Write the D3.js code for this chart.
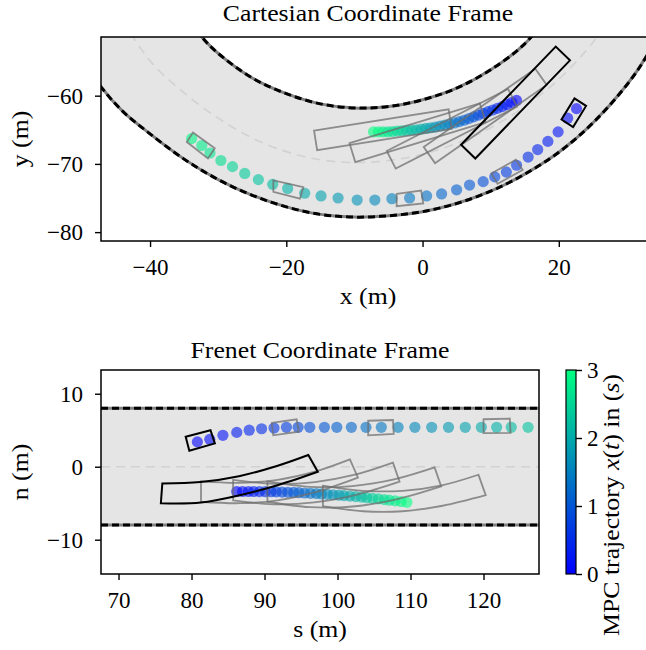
<!DOCTYPE html>
<html>
<head>
<meta charset="utf-8">
<script src="https://cdn.jsdelivr.net/npm/d3@7"></script>
<style>
  body { margin: 0; background: #fff; }
  svg text { font-family: "Liberation Serif", "DejaVu Serif", serif; fill: #000; }
</style>
</head>
<body>
<div id="chart"></div>
<script>
// ---------- data: Cartesian frame ----------
const cartXLim = [-47.2, 32.8];
const cartYLim = [-81.3, -51.4];
const cartXTicks = [-40, -20, 0, 20];
const cartYTicks = [-80, -70, -60];

// road edges and centre line (x, y)
const roadOuterXY = [[-53,-48.8],[-50,-54.5],[-47.2,-58.7],[-44,-62.3],[-40,-65.6],[-35,-69.3],[-30,-72.3],[-25,-74.6],[-20,-76.3],[-15,-77.4],[-10,-77.8],[-5,-77.6],[0,-77.0],[5,-75.8],[10,-74.0],[15,-71.5],[20,-68.3],[25,-64.0],[30,-58.4],[33,-54.0],[36,-47.8]];
const roadInnerXY = [[-37,-45.1],[-32.4,-51.4],[-30,-53.8],[-25,-57.4],[-20,-59.7],[-15,-61.2],[-10,-61.8],[-5,-61.6],[0,-60.6],[5,-58.9],[10,-56.2],[15,-52.4],[19,-47.5]];
const roadCenterXY = [[-44,-49.0],[-40,-54.9],[-35,-59.6],[-30,-63.3],[-25,-66.2],[-20,-68.2],[-15,-69.4],[-10,-69.8],[-5,-69.5],[0,-68.6],[5,-67.0],[10,-64.7],[15,-61.6],[20,-57.6],[25,-52.2],[28,-47.9]];

// other vehicle: predicted positions (x, y, t)
const obstacleXY = [[22.6,-61.9,0.0],[21.3,-63.3,0.1],[19.9,-65.3,0.2],[18.4,-66.7,0.3],[16.9,-67.9,0.4],[15.5,-69.0,0.5],[13.8,-70.2,0.6],[12.3,-71.2,0.7],[10.6,-71.9,0.8],[8.9,-72.6,0.9],[6.9,-73.1,1.0],[5.0,-73.8,1.1],[2.8,-74.4,1.2],[0.6,-74.7,1.3],[-1.9,-75.0,1.4],[-4.5,-75.1,1.5],[-7.0,-75.3,1.6],[-9.6,-75.3,1.7],[-12.4,-75.0,1.8],[-14.9,-74.7,1.9],[-17.3,-74.3,2.0],[-19.8,-73.6,2.1],[-22.0,-73.0,2.2],[-24.1,-72.3,2.3],[-26.1,-71.4,2.4],[-27.9,-70.4,2.5],[-29.6,-69.5,2.6],[-31.2,-68.4,2.7],[-32.4,-67.3,2.8],[-33.9,-66.3,2.9]];

// ego MPC trajectory (x, y, t)
const egoXY = [[13.8,-60.7,0.0],[13.1,-61.0,0.1],[12.4,-61.3,0.2],[11.7,-61.6,0.3],[11.0,-61.85,0.4],[10.3,-62.1,0.5],[9.6,-62.35,0.6],[8.9,-62.6,0.7],[8.2,-62.85,0.8],[7.5,-63.1,0.9],[6.8,-63.35,1.0],[6.1,-63.6,1.1],[5.4,-63.8,1.2],[4.7,-64.0,1.3],[4.0,-64.15,1.4],[3.3,-64.3,1.5],[2.6,-64.45,1.6],[1.9,-64.6,1.7],[1.2,-64.7,1.8],[0.5,-64.8,1.9],[-0.2,-64.9,2.0],[-0.9,-65.0,2.1],[-1.6,-65.05,2.2],[-2.3,-65.1,2.3],[-3.0,-65.15,2.4],[-3.7,-65.2,2.5],[-4.4,-65.25,2.6],[-5.1,-65.3,2.7],[-5.8,-65.3,2.8],[-6.5,-65.3,2.9],[-7.2,-65.3,3.0]];

// other vehicle footprints (corners)
const obstacleNowXY = [[22.3,-60.4],[24.0,-61.5],[22.1,-64.6],[20.4,-63.5]];
const obstacleBoxesXY = [
  [[10.1,-71.4],[13.7,-69.4],[14.7,-70.9],[11.0,-72.9]],
  [[-3.8,-74.4],[-0.2,-73.9],[0.1,-75.8],[-3.8,-76.2]],
  [[-21.9,-72.4],[-17.5,-73.4],[-18.0,-75.1],[-21.9,-74.1]],
  [[-33.7,-65.4],[-30.5,-67.7],[-31.5,-69.2],[-34.6,-66.8]]
];
// ego footprints: front-centre x, y, body angle (deg, front -> rear); first one is the current pose
const egoPosesXY = [[6.7,-68.2,46],[1.0,-68.7,35],[-4.6,-69.4,27],[-10.3,-68.35,17],[-15.7,-66.55,9]];
const egoLength = 20;
const egoWidth = 2.9;

// ---------- data: Frenet frame ----------
const frenetSLim = [67.6, 127.6];
const frenetNLim = [-14.7, 13.25];
const frenetSTicks = [70, 80, 90, 100, 110, 120];
const frenetNTicks = [-10, 0, 10];
const laneEdgesN = [-8, 8];

const obstacleSN = [[80.8,3.4,0.0],[82.5,3.75,0.1],[84.3,4.3,0.2],[86.2,4.7,0.3],[87.9,5.0,0.4],[89.6,5.2,0.5],[91.3,5.3,0.6],[93.0,5.4,0.7],[94.6,5.4,0.8],[96.2,5.4,0.9],[98.2,5.4,1.0],[99.9,5.4,1.1],[101.9,5.4,1.2],[103.9,5.4,1.3],[106.0,5.4,1.4],[108.3,5.4,1.5],[110.6,5.4,1.6],[112.9,5.4,1.7],[115.2,5.4,1.8],[117.5,5.4,1.9],[119.7,5.4,2.0],[121.8,5.4,2.1],[123.8,5.4,2.2],[126.1,5.4,2.3]];

const egoSN = [[86.2,-3.40,0.0],[87.0,-3.40,0.1],[87.8,-3.40,0.2],[88.5,-3.40,0.3],[89.3,-3.41,0.4],[90.1,-3.42,0.5],[90.9,-3.43,0.6],[91.6,-3.45,0.7],[92.4,-3.47,0.8],[93.2,-3.50,0.9],[94.0,-3.53,1.0],[94.7,-3.56,1.1],[95.5,-3.60,1.2],[96.3,-3.64,1.3],[97.1,-3.68,1.4],[97.8,-3.73,1.5],[98.6,-3.78,1.6],[99.4,-3.84,1.7],[100.2,-3.90,1.8],[100.9,-3.96,1.9],[101.7,-4.03,2.0],[102.5,-4.10,2.1],[103.3,-4.17,2.2],[104.0,-4.25,2.3],[104.8,-4.33,2.4],[105.6,-4.41,2.5],[106.4,-4.50,2.6],[107.1,-4.59,2.7],[107.9,-4.68,2.8],[108.7,-4.78,2.9],[109.5,-4.88,3.0]];

const obstacleNowSN = [[79.2,4.1],[82.6,5.0],[83.2,3.2],[79.7,2.2]];
const obstacleBoxesSN = [
  [[91.0,6.0],[94.4,6.5],[94.7,4.8],[91.2,4.3]],
  [[104.2,6.3],[107.6,6.4],[107.7,4.5],[104.2,4.3]],
  [[120.0,6.5],[123.6,6.6],[123.7,4.65],[120.0,4.6]]
];
// ego outlines in (s, n): upper edge rear->front, then lower edge front->rear
const egoNowSN = [[76.0,-2.3],[81.2,-2.1],[86.5,-1.3],[91.7,0.1],[96.0,1.6],[97.3,-0.7],[91.9,-2.5],[86.6,-3.9],[81.3,-4.9],[75.8,-5.0]];
const egoOutlinesSN = [
  [[81.3,-2.0],[86.5,-2.2],[91.8,-1.8],[97.0,-0.65],[101.7,1.0],[102.8,-1.5],[97.1,-3.45],[91.8,-4.6],[86.6,-5.0],[81.3,-4.8]],
  [[85.7,-1.8],[91.3,-2.35],[96.9,-2.1],[102.4,-1.1],[107.6,0.55],[108.5,-2.05],[102.4,-3.9],[96.8,-4.9],[91.3,-5.15],[85.7,-4.6]],
  [[90.4,-2.0],[96.2,-2.75],[102.0,-2.65],[107.9,-1.7],[113.3,-0.1],[114.2,-2.7],[107.9,-4.5],[102.1,-5.45],[96.2,-5.55],[90.4,-4.8]],
  [[98.0,-2.6],[103.4,-3.3],[108.9,-3.3],[114.3,-2.55],[119.3,-1.1],[120.3,-3.9],[114.4,-5.35],[108.9,-6.1],[103.5,-6.1],[98.0,-5.4]]
];

// ---------- colour bar ----------
const cbarLim = [0, 3];
const cbarTicks = [0, 1, 2, 3];
const cbarColors = ["#0000ff", "#00ff80"];

// ---------- layout ----------
const width = 646, height = 650;
const fontSize = 23;
const widen = 1.12; // Times is narrower than the Computer Modern of the original
const topBox = { left: 101, right: 646, top: 37, bottom: 241 };
const botBox = { left: 101, right: 539, top: 370, bottom: 574 };
const cbarBox = { left: 566, right: 576, top: 370, bottom: 574 };

const color = d3.scaleLinear().domain(cbarLim).range(cbarColors);

const svg = d3.create("svg")
    .attr("width", width)
    .attr("height", height)
    .attr("viewBox", [0, 0, width, height]);

const defs = svg.append("defs");

function addClip(id, box) {
    defs.append("clipPath").attr("id", id)
        .append("rect")
        .attr("x", box.left).attr("y", box.top)
        .attr("width", box.right - box.left).attr("height", box.bottom - box.top);
}
addClip("clipTop", topBox);
addClip("clipBot", botBox);

function styleAxis(g) {
    g.attr("font-family", null).attr("font-size", null);
    g.select(".domain").remove();
    g.selectAll(".tick line").attr("stroke", "#000").attr("stroke-width", 1.4);
    g.selectAll(".tick text").attr("font-size", fontSize).attr("fill", "#000");
}

function drawEdge(g, d) {
    g.append("path").attr("d", d).attr("fill", "none")
        .attr("stroke", "#808080").attr("stroke-width", 3);
    g.append("path").attr("d", d).attr("fill", "none")
        .attr("stroke", "#000").attr("stroke-width", 3)
        .attr("stroke-dasharray", "7,4");
}

function label(xPos, yPos, txt, rotate) {
    return svg.append("text")
        .attr("class", "wide")
        .attr("transform", `translate(${xPos},${yPos})` + (rotate ? " rotate(-90)" : ""))
        .attr("text-anchor", "middle").attr("font-size", fontSize)
        .text(txt);
}

// ======== top: Cartesian ========
const x = d3.scaleLinear().domain(cartXLim).range([topBox.left, topBox.right]);
const y = d3.scaleLinear().domain(cartYLim).range([topBox.bottom, topBox.top]);

const cartLine = d3.line().x(d => x(d[0])).y(d => y(d[1])).curve(d3.curveCatmullRom);
const cartPoly = d3.line().x(d => x(d[0])).y(d => y(d[1])).curve(d3.curveLinearClosed);

const gTop = svg.append("g").attr("clip-path", "url(#clipTop)");

// road surface
const outerPath = cartLine(roadOuterXY);
const innerRevPath = cartLine(roadInnerXY.slice().reverse());
gTop.append("path")
    .attr("d", outerPath + "L" + innerRevPath.slice(1) + "Z")
    .attr("fill", "#e5e5e5");

gTop.append("path").attr("d", cartLine(roadCenterXY))
    .attr("fill", "none").attr("stroke", "#d2d2d2")
    .attr("stroke-width", 1.6).attr("stroke-dasharray", "9,6");
drawEdge(gTop, outerPath);
drawEdge(gTop, cartLine(roadInnerXY));

// trajectories
gTop.append("g").selectAll("circle").data(obstacleXY).join("circle")
    .attr("cx", d => x(d[0])).attr("cy", d => y(d[1])).attr("r", 5.6)
    .attr("fill", d => color(d[2])).attr("fill-opacity", 0.6);
gTop.append("g").selectAll("circle").data(egoXY).join("circle")
    .attr("cx", d => x(d[0])).attr("cy", d => y(d[1])).attr("r", 5.6)
    .attr("fill", d => color(d[2])).attr("fill-opacity", 0.6);

// footprints
gTop.append("g").selectAll("path").data(obstacleBoxesXY).join("path")
    .attr("d", cartPoly).attr("fill", "none")
    .attr("stroke", "#6e6e6e").attr("stroke-opacity", 0.75).attr("stroke-width", 1.8);

function egoCorners(p) {
    const a = p[2] * Math.PI / 180;
    const ux = Math.cos(a), uy = Math.sin(a);
    const vx = -uy * egoWidth / 2, vy = ux * egoWidth / 2;
    const rx = p[0] + ux * egoLength, ry = p[1] + uy * egoLength;
    return [[p[0] + vx, p[1] + vy], [rx + vx, ry + vy], [rx - vx, ry - vy], [p[0] - vx, p[1] - vy]];
}
gTop.append("g").selectAll("path").data(egoPosesXY.slice(1)).join("path")
    .attr("d", p => cartPoly(egoCorners(p))).attr("fill", "none")
    .attr("stroke", "#6e6e6e").attr("stroke-opacity", 0.75).attr("stroke-width", 1.8);
gTop.append("path").attr("d", cartPoly(egoCorners(egoPosesXY[0])))
    .attr("fill", "none").attr("stroke", "#000").attr("stroke-width", 2);
gTop.append("path").attr("d", cartPoly(obstacleNowXY))
    .attr("fill", "none").attr("stroke", "#000").attr("stroke-width", 2);

// axes
svg.append("g").attr("transform", `translate(0,${topBox.bottom})`)
    .call(d3.axisBottom(x).tickValues(cartXTicks).tickSize(6).tickPadding(12))
    .call(styleAxis);
svg.append("g").attr("transform", `translate(${topBox.left},0)`)
    .call(d3.axisLeft(y).tickValues(cartYTicks).tickSize(6).tickPadding(12))
    .call(styleAxis);
svg.append("rect")
    .attr("x", topBox.left).attr("y", topBox.top)
    .attr("width", topBox.right - topBox.left + 4).attr("height", topBox.bottom - topBox.top)
    .attr("fill", "none").attr("stroke", "#000").attr("stroke-width", 1.5);

label(368, 21, "Cartesian Coordinate Frame");
label(368, 304, "x (m)");
label(28, (topBox.top + topBox.bottom) / 2, "y (m)", true);

// ======== bottom: Frenet ========
const s = d3.scaleLinear().domain(frenetSLim).range([botBox.left, botBox.right]);
const n = d3.scaleLinear().domain(frenetNLim).range([botBox.bottom, botBox.top]);

const frLine = d3.line().x(d => s(d[0])).y(d => n(d[1])).curve(d3.curveCatmullRom);
const frPoly = d3.line().x(d => s(d[0])).y(d => n(d[1])).curve(d3.curveLinearClosed);
const outline = pts => frLine(pts.slice(0, 5)) + "L" + frLine(pts.slice(5)).slice(1) + "Z";

const gBot = svg.append("g").attr("clip-path", "url(#clipBot)");

gBot.append("rect")
    .attr("x", s(frenetSLim[0])).attr("y", n(laneEdgesN[1]))
    .attr("width", s(frenetSLim[1]) - s(frenetSLim[0]))
    .attr("height", n(laneEdgesN[0]) - n(laneEdgesN[1]))
    .attr("fill", "#e5e5e5");
gBot.append("line")
    .attr("x1", s(frenetSLim[0])).attr("x2", s(frenetSLim[1]))
    .attr("y1", n(0)).attr("y2", n(0))
    .attr("stroke", "#d2d2d2").attr("stroke-width", 1.6).attr("stroke-dasharray", "9,6");
laneEdgesN.forEach(v => {
    drawEdge(gBot, `M${s(frenetSLim[0])},${n(v)}H${s(frenetSLim[1])}`);
});

gBot.append("g").selectAll("circle").data(obstacleSN).join("circle")
    .attr("cx", d => s(d[0])).attr("cy", d => n(d[1])).attr("r", 5.6)
    .attr("fill", d => color(d[2])).attr("fill-opacity", 0.6);
gBot.append("g").selectAll("circle").data(egoSN).join("circle")
    .attr("cx", d => s(d[0])).attr("cy", d => n(d[1])).attr("r", 5.6)
    .attr("fill", d => color(d[2])).attr("fill-opacity", 0.6);

gBot.append("g").selectAll("path").data(obstacleBoxesSN).join("path")
    .attr("d", frPoly).attr("fill", "none")
    .attr("stroke", "#6e6e6e").attr("stroke-opacity", 0.75).attr("stroke-width", 1.8);
gBot.append("g").selectAll("path").data(egoOutlinesSN).join("path")
    .attr("d", outline).attr("fill", "none")
    .attr("stroke", "#6e6e6e").attr("stroke-opacity", 0.75).attr("stroke-width", 1.8);
gBot.append("path").attr("d", outline(egoNowSN))
    .attr("fill", "none").attr("stroke", "#000").attr("stroke-width", 2);
gBot.append("path").attr("d", frPoly(obstacleNowSN))
    .attr("fill", "none").attr("stroke", "#000").attr("stroke-width", 2);

svg.append("g").attr("transform", `translate(0,${botBox.bottom})`)
    .call(d3.axisBottom(s).tickValues(frenetSTicks).tickSize(6).tickPadding(12))
    .call(styleAxis);
svg.append("g").attr("transform", `translate(${botBox.left},0)`)
    .call(d3.axisLeft(n).tickValues(frenetNTicks).tickSize(6).tickPadding(12))
    .call(styleAxis);
svg.append("rect")
    .attr("x", botBox.left).attr("y", botBox.top)
    .attr("width", botBox.right - botBox.left).attr("height", botBox.bottom - botBox.top)
    .attr("fill", "none").attr("stroke", "#000").attr("stroke-width", 1.5);

label((botBox.left + botBox.right) / 2, 358, "Frenet Coordinate Frame");
label((botBox.left + botBox.right) / 2, 637, "s (m)");
label(28, (botBox.top + botBox.bottom) / 2, "n (m)", true);

// ======== colour bar ========
const c = d3.scaleLinear().domain(cbarLim).range([cbarBox.bottom, cbarBox.top]);
const grad = defs.append("linearGradient").attr("id", "cbarGrad")
    .attr("x1", 0).attr("y1", 1).attr("x2", 0).attr("y2", 0);
grad.selectAll("stop").data(cbarTicks).join("stop")
    .attr("offset", d => (d - cbarLim[0]) / (cbarLim[1] - cbarLim[0]))
    .attr("stop-color", d => color(d));
svg.append("rect")
    .attr("x", cbarBox.left).attr("y", cbarBox.top)
    .attr("width", cbarBox.right - cbarBox.left).attr("height", cbarBox.bottom - cbarBox.top)
    .attr("fill", "url(#cbarGrad)").attr("stroke", "#000").attr("stroke-width", 1.2);
svg.append("g").attr("transform", `translate(${cbarBox.right},0)`)
    .call(d3.axisRight(c).tickValues(cbarTicks).tickFormat(d3.format("d")).tickSize(6).tickPadding(5))
    .call(styleAxis);

const cbLabel = label(619, 505, "", true);
cbLabel.append("tspan").text("MPC trajectory ");
cbLabel.append("tspan").attr("font-style", "italic").text("x");
cbLabel.append("tspan").text("(");
cbLabel.append("tspan").attr("font-style", "italic").text("t");
cbLabel.append("tspan").text(") in (");
cbLabel.append("tspan").attr("font-style", "italic").text("s");
cbLabel.append("tspan").text(")");

document.getElementById("chart").appendChild(svg.node());

// stretch titles and axis labels to the wider set width of the original
svg.selectAll("text.wide").each(function () {
    const w = this.getComputedTextLength();
    d3.select(this).attr("textLength", w * widen).attr("lengthAdjust", "spacingAndGlyphs");
});
</script>
</body>
</html>
